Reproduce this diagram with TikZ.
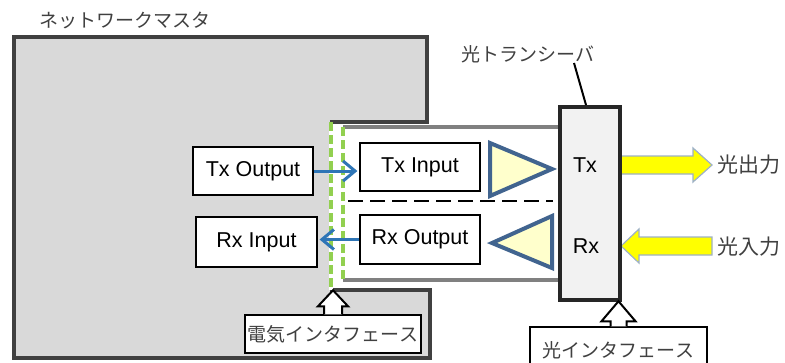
\documentclass[tikz,border=0pt]{standalone}
\usepackage{fontspec}
\setmainfont{Liberation Sans}
\newfontfamily\jpfont{Noto Sans CJK JP}
\usetikzlibrary{arrows.meta}

\definecolor{mastergray}{HTML}{D9D9D9}
\definecolor{masterline}{HTML}{404040}
\definecolor{modgray}{HTML}{808080}
\definecolor{ifgreen}{HTML}{92D050}
\definecolor{sigblue}{HTML}{2E75B6}
\definecolor{ampfill}{HTML}{FFFFCC}
\definecolor{ampline}{HTML}{41648F}
\definecolor{optyellow}{HTML}{FFFF00}
\definecolor{optline}{HTML}{9DB0C6}
\definecolor{trxfill}{HTML}{F2F2F2}
\definecolor{jptext}{HTML}{404040}

\tikzstyle{sigbox} = [draw, fill=white, line width=1.2pt, inner sep=0pt, minimum width=120pt, minimum height=48pt, font=\fontsize{21.5}{25}\selectfont]
\tikzstyle{jplabel} = [inner sep=0pt, text=jptext, font=\jpfont\fontsize{19}{22}\selectfont]
\tikzstyle{ifbox} = [jplabel, draw=black, fill=white, line width=1.5pt, minimum height=38pt]
\tikzstyle{sig} = [draw=sigblue, line width=3pt, -{Straight Barb[sharp, length=12pt, width=20pt]}]
\tikzstyle{amp} = [draw=ampline, fill=ampfill, line width=4pt]
\tikzstyle{optarrow} = [draw=optline, fill=optyellow, line width=1.2pt]
\tikzstyle{hollowarrow} = [draw=black, fill=white, line width=2pt]
\tikzstyle{greenif} = [draw=ifgreen, line width=4.5pt, dash pattern=on 9pt off 4pt]

\begin{document}
\begin{tikzpicture}[x=1pt, y=-1pt, line join=miter]
\useasboundingbox (0,0) rectangle (785,362);

\fill[mastergray] (14,37) -- (427,37) -- (427,122) -- (330,122) -- (330,290) -- (430,290) -- (430,358) -- (14,358) -- cycle;
\draw[masterline, line width=3.5pt] (330,122) -- (427,122) -- (427,37) -- (14,37) -- (14,358) -- (430,358) -- (430,290) -- (330,290);
\node[jplabel, anchor=west] (master) at (39,20) {ネットワークマスタ};

\draw[modgray, line width=3.5pt] (343,127) -- (560,127);
\draw[modgray, line width=3.5pt] (343,280) -- (560,280);
\draw[white, line width=4.5pt] (331,122) -- (331,290);
\draw[greenif] (331,122) -- (331,290);
\draw[greenif] (343,127) -- (343,280);
\draw[black, line width=2.2pt, dash pattern=on 15pt off 7pt] (348,201) -- (553,201);

\node[sigbox] (txout) at (253,171) {Tx Output};
\node[sigbox, minimum width=121pt, minimum height=50pt] (rxin) at (256.5,242) {Rx Input};
\node[sigbox] (txin) at (420,167) {Tx Input};
\node[sigbox, minimum height=49pt] (rxout) at (420,239.5) {Rx Output};

\draw[sig] (txout.east) -- ([xshift=-2pt]txout.east -| txin.west);
\draw[sig] (rxout.west) -- ([xshift=2pt]rxout.west -| rxin.east);

\draw[amp] (490,143) -- (552,169) -- (490,196) -- cycle;
\draw[amp] (552,216) -- (492,243) -- (552,268) -- cycle;

\draw[optarrow] (620,156) -- (693,156) -- (693,148) -- (712,165) -- (693,182) -- (693,174) -- (620,174) -- cycle;
\draw[optarrow] (712,237) -- (639,237) -- (639,229) -- (621,246) -- (639,263) -- (639,255) -- (712,255) -- cycle;
\node[jplabel, font=\jpfont\fontsize{21}{24}\selectfont, anchor=west] (optout) at (717,165) {光出力};
\node[jplabel, font=\jpfont\fontsize{21}{24}\selectfont, anchor=west] (optin) at (717,247) {光入力};

\node[draw=black!85, fill=trxfill, line width=4pt, minimum width=60pt, minimum height=193pt, inner sep=0pt] (trx) at (590,203.5) {};
\node[font=\fontsize{21.5}{25}\selectfont] (tx) at (585,165) {Tx};
\node[font=\fontsize{21.5}{25}\selectfont] (rx) at (586,246) {Rx};
\node[jplabel] (trxlabel) at (528,54) {光トランシーバ};
\coordinate (lead) at (574,63);
\draw[line width=2pt] (lead) -- ([xshift=-4pt]trx.north);

\node[ifbox, minimum width=176pt] (elecif) at (333,334) {電気インタフェース};
\draw[hollowarrow] ([xshift=-9pt]elecif.north) -- ++(0,-8) -- ++(-6,0) -- ++(15,-16) -- ++(15,16) -- ++(-6,0) -- ++(0,8);

\node[ifbox, minimum width=177pt, minimum height=46pt, text depth=0pt, text height=14pt] (optif) at (618.5,350) {光インタフェース};
\draw[hollowarrow] ([xshift=-8pt]optif.north) -- ++(0,-5) -- ++(-9,0) -- ++(17,-20) -- ++(17,20) -- ++(-9,0) -- ++(0,5);
\end{tikzpicture}
\end{document}
